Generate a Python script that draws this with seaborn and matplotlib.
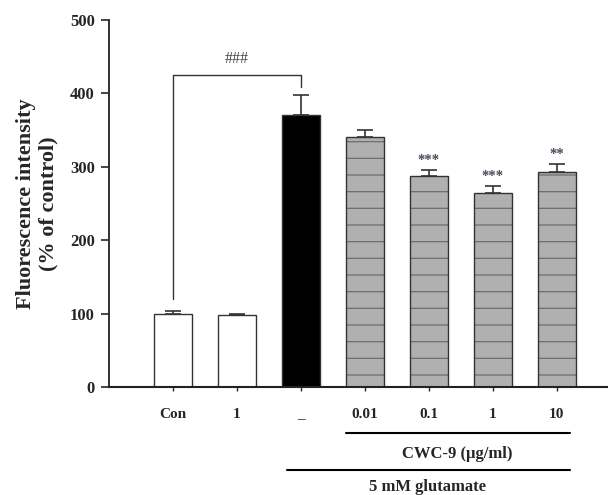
import numpy as np
import pandas as pd
import seaborn as sns
import matplotlib.pyplot as plt
import matplotlib.colors as mcolors

# values
groups = ["con", "cwc1", "glu", "c0.01", "c0.1", "c1", "c10"]
tick_labels = ["Con", "1", "_", "0.01", "0.1", "1", "10"]
means = [100, 98, 370, 340, 287, 264, 293]
errors = [4, 2, 27, 10, 8, 10, 11]
stars = ["", "", "", "", "***", "***", "**"]
bar_colors = ["white", "white", "black", "#b0b0b0", "#b0b0b0", "#b0b0b0", "#b0b0b0"]

sns.set_style("ticks")
plt.rcParams["font.family"] = ["Liberation Serif", "DejaVu Serif"]
plt.rcParams["font.weight"] = "bold"
plt.rcParams["hatch.linewidth"] = 0.9

df = pd.DataFrame({"group": groups, "value": means})

fig = plt.figure(figsize=(6.08, 4.95), dpi=100)
ax = fig.add_axes([0.179, 0.218, 0.821, 0.742])

sns.barplot(data=df, x="group", y="value", hue="group", order=groups,
            palette=bar_colors, width=0.6, edgecolor="#333333", linewidth=1.0,
            legend=False, ax=ax)

# hatch the CWC-9 bars with lighter grey lines
for i, p in enumerate(ax.patches):
    if i >= 3:
        p.set_hatch("-")
        if hasattr(p, "set_hatchcolor"):
            p.set_hatchcolor("#6e6e6e")
        else:
            p._hatch_color = mcolors.to_rgba("#6e6e6e")

# upper error bars only
x = np.arange(len(groups))
ax.errorbar(x, means, yerr=[np.zeros(len(errors)), errors], fmt="none",
            ecolor="#333333", elinewidth=1.2, capsize=6, capthick=1.2)

for xi, m, e, s in zip(x, means, errors, stars):
    if s:
        ax.text(xi, m + e + 4, s, ha="center", va="bottom", fontsize=10.5,
                color="#4a4a5a")

# significance bracket Con vs glutamate
ax.plot([0, 0, 2, 2], [120, 425, 425, 408], color="#333333", lw=1.0)
ax.text(1, 436, "###", ha="center", va="bottom", fontsize=11.5,
        color="#444444", fontweight="normal")

ax.set_xlim(-1, 6.8)
ax.set_ylim(0, 500)
ax.set_yticks([0, 100, 200, 300, 400, 500])
ax.set_xticks(x)
ax.set_xticklabels(tick_labels)
ax.tick_params(axis="y", direction="out", length=6, width=1.2, labelsize=12,
               pad=4)
ax.tick_params(axis="x", direction="out", length=3, width=1.0, labelsize=11,
               pad=12)
for lab in ax.get_xticklabels():
    if lab.get_text() == "_":
        lab.set_y(0.0)
ax.set_xlabel("")
ax.set_ylabel("Fluorescence intensity\n(% of control)", fontsize=16,
              fontweight="bold", labelpad=8)
sns.despine(ax=ax, top=True, right=True)
ax.spines["left"].set_linewidth(1.3)
ax.spines["bottom"].set_linewidth(1.5)
ax.spines["left"].set_color("#222222")
ax.spines["bottom"].set_color("#222222")

# group lines under the axis
trans = ax.get_xaxis_transform()
ax.plot([2.7, 6.2], [-0.125, -0.125], color="black", lw=1.5, transform=trans,
        clip_on=False)
ax.text(4.45, -0.16, "CWC-9 (\u03bcg/ml)", ha="center", va="top", fontsize=12,
        transform=trans)
ax.plot([1.78, 6.2], [-0.225, -0.225], color="black", lw=1.5, transform=trans,
        clip_on=False)
ax.text(3.98, -0.25, "5 mM glutamate", ha="center", va="top", fontsize=12,
        transform=trans)

fig.savefig("out.png", dpi=100)
